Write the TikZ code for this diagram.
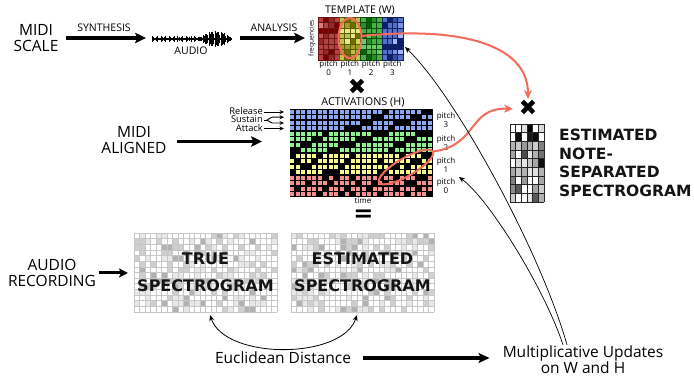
\documentclass[tikz,border=0pt]{standalone}
\usepackage{fontspec}
\setmainfont{Open Sans}
\newfontfamily\dvsans{DejaVu Sans}
\usetikzlibrary{arrows.meta,calc}

\definecolor{redline}{HTML}{F26B5B}
\definecolor{actB}{HTML}{8CA6F2}
\definecolor{actG}{HTML}{8EF08E}
\definecolor{actY}{HTML}{F8F890}
\definecolor{actR}{HTML}{F49090}
\definecolor{t0c0}{HTML}{D88080}
\definecolor{t0c1}{HTML}{C05858}
\definecolor{t0c2}{HTML}{B04444}
\definecolor{t0c3}{HTML}{982828}
\definecolor{t0c4}{HTML}{7A0000}
\definecolor{t0ln}{HTML}{6A1414}
\definecolor{t1c0}{HTML}{E8E888}
\definecolor{t1c1}{HTML}{D4D460}
\definecolor{t1c2}{HTML}{C0C048}
\definecolor{t1c3}{HTML}{A0A028}
\definecolor{t1c4}{HTML}{707000}
\definecolor{t1ln}{HTML}{5C5C00}
\definecolor{t2c0}{HTML}{98E898}
\definecolor{t2c1}{HTML}{68CC68}
\definecolor{t2c2}{HTML}{48B048}
\definecolor{t2c3}{HTML}{289028}
\definecolor{t2c4}{HTML}{006400}
\definecolor{t2ln}{HTML}{0A4A0A}
\definecolor{t3c0}{HTML}{A4B8F8}
\definecolor{t3c1}{HTML}{7C94E4}
\definecolor{t3c2}{HTML}{5470C8}
\definecolor{t3c3}{HTML}{34509C}
\definecolor{t3c4}{HTML}{0C1E6C}
\definecolor{t3ln}{HTML}{102060}

\begin{document}
\begin{tikzpicture}[x=1pt,y=-1pt,
  big/.style={font=\fontsize{15.5}{15.5}\selectfont, align=center, inner sep=0},
  smallcap/.style={font=\fontsize{10.5}{11}\selectfont, inner sep=0},
  tinylab/.style={font=\fontsize{8}{7.2}\selectfont, align=center, inner sep=0},
  boldlab/.style={font=\dvsans\bfseries\fontsize{16}{26}\selectfont, text=black!92, inner sep=0},
  timesmark/.style={font=\dvsans\fontsize{22}{22}\selectfont, inner sep=0, anchor=base, text height=14pt, text depth=0pt},
  rowlab/.style={anchor=east, font=\fontsize{9.3}{9.3}\selectfont, inner sep=0, text height=5.5pt, text depth=0.5pt},
  fatarrow/.style={line width=3.3pt, -{Stealth[length=11pt,width=10.5pt,inset=2.5pt]}},
  thinarrow/.style={line width=0.7pt, -{Stealth[length=6pt,width=5pt]}},
  smallarrow/.style={line width=0.9pt, -{Stealth[length=4.5pt,width=4pt]}},
  redarrow/.style={draw=redline, line width=2pt, -{Stealth[length=9pt,width=8pt]}},
  gridbox/.style={inner sep=0, outer sep=0}
]
\useasboundingbox (0,0) rectangle (694,379);
\fill[white] (0,0) rectangle (694,379);

% ---------- top row ----------
\node[big] (midiscale) at (36,38) {MIDI\\SCALE};
\coordinate (synA) at (66,38);
\coordinate (synB) at (146,38);
\draw[fatarrow] (synA) -- (synB);
\node[smallcap] (synlab) at (104,28) {SYNTHESIS};

% waveform
\draw[line width=1.5pt] (152,39) -- (232,39);
\foreach \x in {152.5,153.7,...,231.5} {
  \pgfmathsetmacro\a{\x<199 ? 1.0+2.4*abs(sin(\x*43))^3 : (1.5+6.5*sin((\x-199)/33*180))*(0.55+0.45*abs(sin(\x*59)))}
  \draw[line width=0.7pt] (\x,39-\a) -- (\x,39+\a);
}
\node[smallcap] (audiolab) at (191,51) {AUDIO};

\coordinate (anaA) at (240,38);
\coordinate (anaB) at (305,38);
\draw[fatarrow] (anaA) -- (anaB);
\node[smallcap] (analab) at (274,28) {ANALYSIS};

% ---------- template ----------
\node[gridbox, minimum width=85, minimum height=43] (tmpl) at (360.5,38.5) {};
\foreach \i in {0,...,15} {
  \foreach \j in {0,...,7} {
    \pgfmathtruncatemacro\g{int(\i/4)}
    \pgfmathtruncatemacro\v{mod(3*\i+5*\j+\i*\j*\j+2*\g,7)}
    \pgfmathtruncatemacro\s{{2,1,2,4,2,0,3}[\v]}
    \path[fill=t\g c\s, draw=t\g ln, line width=0.4pt] (318+\i*5.3125, 17+\j*5.375) rectangle ++(5.3125,5.375);
  }
}
\node[font=\fontsize{10.6}{11}\selectfont, inner sep=0] (tmpltitle) at (360,10.5) {TEMPLATE (W)};
\node[rotate=90, font=\fontsize{6.6}{7}\selectfont, inner sep=0] (freqlab) at (312,38) {frequencies};
\node[tinylab] (tp0) at (328.6,68) {pitch\\0};
\node[tinylab] (tp1) at (349.9,68) {pitch\\1};
\node[tinylab] (tp2) at (371.1,68) {pitch\\2};
\node[tinylab] (tp3) at (392.4,68) {pitch\\3};
\draw[redline, line width=2pt] (350,38) ellipse [x radius=11.5, y radius=20];

\node[timesmark] (times1) at (357,94.5) {✖};

% ---------- activations ----------
\node[font=\fontsize{10.8}{11}\selectfont, inner sep=0] (acttitle) at (363,102.5) {ACTIVATIONS (H)};
\node[gridbox, minimum width=143, minimum height=88] (act) at (361,153) {};
\fill[black] (289.5,109) rectangle (432.5,197);
\foreach \r in {0,...,15} {
  \pgfmathtruncatemacro\b{int(\r/4)}
  \ifcase\b \def\cc{actB}\or \def\cc{actG}\or \def\cc{actY}\else \def\cc{actR}\fi
  \foreach \c in {0,...,25} {
    \fill[\cc] (289.5+\c*5.5+0.6, 109+\r*5.5+0.6) rectangle ++(4.3,4.3);
  }
}
\foreach \r/\lst in {
  0/{17,24,25}, 1/{15,16,22,23}, 2/{13,14,19,20,21}, 3/{10,11,12,18},
  4/{6,15,16,17,23,24,25}, 5/{4,5,12,13,14,21,22}, 6/{2,3,9,10,11,19,20}, 7/{0,1,7,8,18},
  8/{0,5,11,20,24,25}, 9/{1,4,10,16,22,23}, 10/{2,3,9,18,19,21}, 11/{0,6,7,8,16,17},
  12/{6,8,11,16,19,23,24}, 13/{3,7,12,15,17,21,22}, 14/{1,6,10,14,19,23}, 15/{5,9,11,16,21,25}} {
  \foreach \c in \lst {
    \fill[black] (289.5+\c*5.5, 109+\r*5.5) rectangle ++(5.5,5.5);
  }
}
\node[tinylab] (ap3) at (446,120) {pitch\\3};
\node[tinylab] (ap2) at (446,143) {pitch\\2};
\node[tinylab] (ap1) at (446,165) {pitch\\1};
\node[tinylab] (ap0) at (446,186) {pitch\\0};
\node[font=\fontsize{8}{8}\selectfont, inner sep=0] (timelab) at (363,201) {time};
\node[font=\dvsans\bfseries\fontsize{24}{24}\selectfont, inner sep=0, anchor=base, text height=12pt, text depth=0pt] (eqsign) at (363.5,222) {=};

\node[rowlab] (rel) at (263,112) {Release};
\node[rowlab] (sus) at (263,120.5) {Sustain};
\node[rowlab] (att) at (263,129) {Attack};
\draw[smallarrow] (263.5,112) -- (284,112);
\draw[line width=0.9pt] (263.5,120) -- (267,120);
\draw[smallarrow] (267,120) .. controls (270,120) and (268.5,117.2) .. (272,117.2) -- (284,117.2);
\draw[smallarrow] (267,120) .. controls (270,120) and (268.5,123) .. (272,123) -- (284,123);
\draw[smallarrow] (263.5,128.5) -- (284,128.5);

\node[big] (midialigned) at (134,140) {MIDI\\ALIGNED};
\coordinate (alA) at (177,141.5);
\coordinate (alB) at (262,141.5);
\draw[fatarrow] (alA) -- (alB);

\draw[redline, line width=2pt, rotate around={30:(406,167)}] (406,167) ellipse [x radius=31, y radius=9];

% ---------- estimated note-separated spectrogram ----------
\node[gridbox, minimum width=34, minimum height=78] (notespec) at (527,163) {};
\foreach \r/\vals in {
  0/{0,0,12,100,0,15}, 1/{0,95,0,90,95,0}, 2/{30,22,40,30,20,50}, 3/{35,0,70,10,30,55},
  4/{0,15,10,22,35,95}, 5/{35,22,30,10,12,30}, 6/{50,0,40,0,0,35}, 7/{45,65,0,0,35,20},
  8/{20,0,0,10,65,30}} {
  \foreach \v [count=\c from 0] in \vals {
    \fill[black!\v] (510+\c*34/6, 124+\r*78/9) rectangle ++(34/6,78/9);
  }
}
\foreach \c in {0,...,6} { \draw[black!85, line width=0.7pt] (510+\c*34/6,124) -- (510+\c*34/6,202); }
\foreach \r in {0,...,9} { \draw[black!85, line width=0.7pt] (510,124+\r*78/9) -- (544,124+\r*78/9); }
\node[boldlab, font=\dvsans\bfseries\fontsize{15.5}{18.7}\selectfont, anchor=west, align=left] (estlab) at (559,163) {ESTIMATED\\NOTE-\\SEPARATED\\SPECTROGRAM};

\node[timesmark] (times2) at (528,116) {✖};

\draw[redarrow] (361.5,36) .. controls (462,26) and (528,45) .. (528,99);
\draw[redarrow] (432.8,151.5) .. controls (478,146) and (468,107) .. (513,109);

% ---------- bottom ----------
\node[big] (audiorec) at (52,273) {AUDIO\\RECORDING};
\coordinate (arA) at (99,273);
\coordinate (arB) at (128,273);
\draw[line width=3pt, -{Stealth[length=9pt,width=9pt,inset=2pt]}] (arA) -- (arB);

\pgfmathsetseed{7}
\node[gridbox, minimum width=143, minimum height=79] (truespec) at (205.5,272.5) {};
\node[gridbox, minimum width=143, minimum height=79] (estspec) at (362.5,272.5) {};
\foreach \x in {134,291} {
  \foreach \c in {0,...,25} {
    \foreach \r in {0,...,13} {
      \pgfmathsetmacro\rv{rnd}
      \pgfmathtruncatemacro\gv{\rv<0.1 ? 30 : (\rv<0.25 ? 19 : (\rv<0.42 ? 9 : 0))}
      \fill[black!\gv] (\x+\c*5.5, 233+\r*79/14) rectangle ++(5.5,79/14);
    }
  }
  \foreach \c in {0,...,26} { \draw[black!22, line width=0.6pt] (\x+\c*5.5,233) -- (\x+\c*5.5,312); }
  \foreach \r in {0,...,14} { \draw[black!22, line width=0.6pt] (\x,233+\r*79/14) -- (\x+143,233+\r*79/14); }
}
\node[boldlab] (truelab1) at (205.5,259) {TRUE};
\node[boldlab] (truelab2) at (205.5,286) {SPECTROGRAM};
\node[boldlab] (estlab1) at (362.5,259) {ESTIMATED};
\node[boldlab] (estlab2) at (362.5,286) {SPECTROGRAM};

\draw[line width=0.8pt, {Stealth[length=6pt,width=5pt]}-{Stealth[length=6pt,width=5pt]}]
  ($(truespec.south)+(4.5,3)$) .. controls (225,360) and (342,360) .. ($(estspec.south)+(-5.5,3)$);

\node[big] (euc) at (283,358) {Euclidean Distance};
\node[big, font=\fontsize{15.5}{16}\selectfont] (mult) at (583,360) {Multiplicative Updates\\on W and H};
\draw[line width=3.2pt, -{Stealth[length=11pt,width=10pt,inset=2.5pt]}] ($(euc.east)+(12,0)$) -- ($(mult.west)+(-13,-2)$);

\draw[thinarrow] ($(mult.north)+(-16,-1)$) .. controls (540,250) and (455,95) .. (405,47);
\draw[thinarrow] ($(mult.north)+(-20,-1)$) .. controls (545,290) and (490,200) .. (459,177);
\end{tikzpicture}
\end{document}
